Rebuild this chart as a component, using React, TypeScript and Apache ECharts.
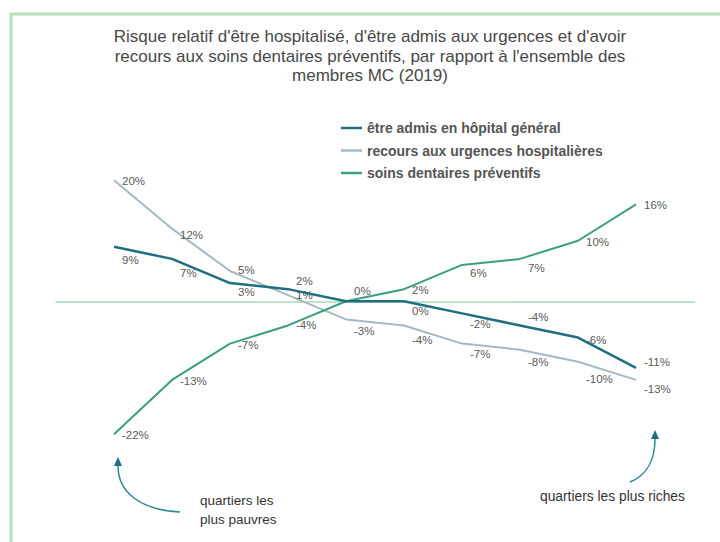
import React, { useEffect, useRef } from "react";
import * as echarts from "echarts";

const deciles = ["1", "2", "3", "4", "5", "6", "7", "8", "9", "10"];
const hospital = [9, 7, 3, 2, 0, 0, -2, -4, -6, -11];
const urgences = [20, 12, 5, 1, -3, -4, -7, -8, -10, -13];
const dentaires = [-22, -13, -7, -4, 0, 2, 6, 7, 10, 16];

const seriesNames = [
  "être admis en hôpital général",
  "recours aux urgences hospitalières",
  "soins dentaires préventifs",
];

const titleText =
  "Risque relatif d'être hospitalisé, d'être admis aux urgences et d'avoir\nrecours aux soins dentaires préventifs, par rapport à l'ensemble des\nmembres MC (2019)";

// label vertical offsets (style only)
const hospLabelDy = [13, 14, 9, -8, -10, 10, 11, -8, 2, -6];
const urgLabelDy = [1, 6, -1, 0, 12, 15, 10, 12, 17, 9];
const dentLabelDy = [1, 1, 1, 0, -10, 1, 8, 9, 1, 1];
const dentLabelHidden = [false, false, false, false, true, false, false, false, false, false];

const FONT = "'Liberation Sans', Arial, sans-serif";

export default function App() {
  const ref = useRef<HTMLDivElement>(null);
  useEffect(() => {
    if (!ref.current) return;
    const chart = echarts.init(ref.current, null, { renderer: "svg" });
    const mk = (vals: number[], dys: number[], hidden?: boolean[]) =>
      vals.map((v, i) => ({
        value: [i + 1, v],
        name: deciles[i],
        label: { offset: [0, dys[i]], show: !(hidden && hidden[i]) },
      }));
    const labelBase = {
      show: true,
      position: "right",
      distance: 8,
      fontSize: 11.5,
      color: "#5a5a5a",
      fontFamily: FONT,
      formatter: (p: any) => `${p.value[1]}%`,
    };
    const common = {
      type: "line",
      symbol: "circle",
      symbolSize: 0,
      showSymbol: true,
      label: labelBase,
    };
    chart.setOption({
      animation: false,
      backgroundColor: "#ffffff",
      textStyle: { fontFamily: FONT },
      grid: { left: 56, right: 26, top: 150, bottom: 89.5 },
      xAxis: {
        type: "value",
        min: 0,
        max: 11,
        axisLine: { show: true, onZero: true, lineStyle: { color: "#a8d8b9", width: 1.5 } },
        axisTick: { show: false },
        axisLabel: { show: false },
        splitLine: { show: false },
      },
      yAxis: {
        type: "value",
        min: -25,
        max: 25,
        show: false,
        splitLine: { show: false },
      },
      legend: {
        orient: "vertical",
        left: 341,
        top: 120,
        padding: 0,
        itemWidth: 21,
        itemHeight: 2.5,
        itemGap: 6.5,
        icon: "rect",
        data: seriesNames,
        textStyle: {
          fontSize: 14,
          fontWeight: "bold",
          color: "#555555",
          lineHeight: 16,
          fontFamily: FONT,
        },
      },
      series: [
        {
          ...common,
          name: seriesNames[1],
          data: mk(urgences, urgLabelDy),
          lineStyle: { color: "#a4b9c4", width: 2 },
          itemStyle: { color: "#a4b9c4" },
          z: 2,
        },
        {
          ...common,
          name: seriesNames[2],
          data: mk(dentaires, dentLabelDy, dentLabelHidden),
          lineStyle: { color: "#3b9f7e", width: 2 },
          itemStyle: { color: "#3b9f7e" },
          z: 3,
        },
        {
          ...common,
          name: seriesNames[0],
          data: mk(hospital, hospLabelDy),
          lineStyle: { color: "#1f6f80", width: 2.5 },
          itemStyle: { color: "#1f6f80" },
          z: 4,
        },
      ],
      graphic: [
        {
          type: "rect",
          shape: { x: 11, y: 14, width: 760, height: 600 },
          style: { fill: "none", stroke: "#b8e0bd", lineWidth: 3 },
          silent: true,
        },
        {
          type: "text",
          x: 370,
          y: 27,
          style: {
            text: titleText,
            textAlign: "center",
            textVerticalAlign: "top",
            fontSize: 17,
            lineHeight: 19.5,
            fill: "#484848",
            fontFamily: FONT,
          },
        },
        {
          type: "bezierCurve",
          shape: { x1: 180, y1: 512, cpx1: 140, cpy1: 510, cpx2: 118, cpy2: 492, x2: 118, y2: 466 },
          style: { stroke: "#2b8a8f", lineWidth: 1.5, fill: "none" },
        },
        {
          type: "polygon",
          shape: { points: [[118, 457], [114, 466], [122, 466]] },
          style: { fill: "#1f6f80" },
        },
        {
          type: "bezierCurve",
          shape: { x1: 630, y1: 482, cpx1: 648, cpy1: 475, cpx2: 655, cpy2: 458, x2: 655, y2: 439 },
          style: { stroke: "#2b8a8f", lineWidth: 1.5, fill: "none" },
        },
        {
          type: "polygon",
          shape: { points: [[655, 430], [651, 439], [659, 439]] },
          style: { fill: "#1f6f80" },
        },
        {
          type: "text",
          x: 200,
          y: 491,
          style: {
            text: "quartiers les\nplus pauvres",
            textAlign: "left",
            textVerticalAlign: "top",
            fontSize: 13.5,
            lineHeight: 19,
            fill: "#333333",
            fontFamily: FONT,
          },
        },
        {
          type: "text",
          x: 540,
          y: 488,
          style: {
            text: "quartiers les plus riches",
            textAlign: "left",
            textVerticalAlign: "top",
            fontSize: 13.8,
            lineHeight: 16,
            fill: "#333333",
            fontFamily: FONT,
          },
        },
      ],
    });
    return () => chart.dispose();
  }, []);
  return (
    <div
      ref={ref}
      style={{ position: "fixed", left: 0, top: 0, width: 720, height: 542 }}
    />
  );
}
